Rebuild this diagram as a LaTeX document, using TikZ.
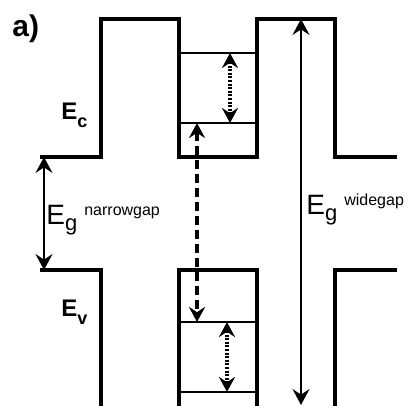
\documentclass[tikz,border=0pt]{standalone}
\usepackage{fontspec}
\setmainfont{Liberation Sans}
\usetikzlibrary{arrows.meta}

\tikzset{
	band/.style={line width=1.7pt, line join=miter},
	level/.style={line width=0.65pt},
	gap/.style={line width=1pt, {Stealth[length=8pt,width=8.5pt,inset=2.8pt]}-{Stealth[length=8pt,width=8.5pt,inset=2.8pt]}},
	trans/.style={line width=1.6pt, {Stealth[length=7.5pt,width=8pt,inset=2.6pt]}-{Stealth[length=7.5pt,width=8pt,inset=2.6pt]}},
}

\begin{document}
\begin{tikzpicture}[x=0.5pt, y=-0.5pt]
	\useasboundingbox (0, 0) rectangle (413, 406);

	% conduction and valence band edges
	\draw[band] (40, 157) -- (101, 157) -- (101, 19) -- (179, 19) -- (179, 157) -- (257, 157) -- (257, 19) -- (335, 19) -- (335, 157) -- (397, 157);
	\draw[band] (40, 270) -- (101, 270) -- (101, 406);
	\draw[band] (179, 406) -- (179, 270) -- (257, 270) -- (257, 406);
	\draw[band] (397, 270) -- (335, 270) -- (335, 406);

	% confined levels
	\draw[level] (179, 53) -- (257, 53);
	\draw[level] (179, 123) -- (257, 123);
	\draw[level] (179, 322) -- (257, 322);
	\draw[level] (179, 392) -- (257, 392);

	\coordinate (c1) at (230, 53);
	\coordinate (c2) at (230, 123);
	\coordinate (c0) at (197, 123);
	\coordinate (v0) at (197, 322);
	\coordinate (v1) at (227, 322);
	\coordinate (v2) at (227, 392);
	\coordinate (ncb) at (44, 157);
	\coordinate (nvb) at (44, 270);
	\coordinate (wcb) at (301, 19);
	\coordinate (wvb) at (301, 405);

	\draw[trans, dash pattern=on 1pt off 0.8pt] (c1) -- (c2);
	\draw[trans, dash pattern=on 1pt off 0.8pt] (v1) -- (v2);
	\draw[trans, dash pattern=on 4.5pt off 2.5pt] (c0) -- (v0);
	\draw[gap] (ncb) -- (nvb);
	\draw[gap] (wcb) -- (wvb);

	\node[anchor=base west, inner sep=0pt, font=\bfseries\fontsize{15}{15}\selectfont] (lab) at (12, 37) {a)};
	\node[anchor=base west, inner sep=0pt, font=\bfseries\fontsize{12}{12}\selectfont] (ec) at (61, 120) {E\raisebox{-4pt}{\fontsize{9}{9}\selectfont c}};
	\node[anchor=base west, inner sep=0pt, font=\bfseries\fontsize{12}{12}\selectfont] (ev) at (61, 317) {E\raisebox{-4pt}{\fontsize{9}{9}\selectfont v}};
	\node[anchor=base west, inner sep=0pt, font=\fontsize{14}{14}\selectfont] (egn) at (46, 225) {E\raisebox{-3pt}{\fontsize{11}{11}\selectfont g}\hspace{3.5pt}\raisebox{4.5pt}{\fontsize{8}{8}\selectfont narrowgap}};
	\node[anchor=base west, inner sep=0pt, font=\fontsize{14}{14}\selectfont] (egw) at (306, 215) {E\raisebox{-3pt}{\fontsize{11}{11}\selectfont g}\hspace{3.5pt}\raisebox{4.5pt}{\fontsize{8}{8}\selectfont widegap}};
\end{tikzpicture}
\end{document}
